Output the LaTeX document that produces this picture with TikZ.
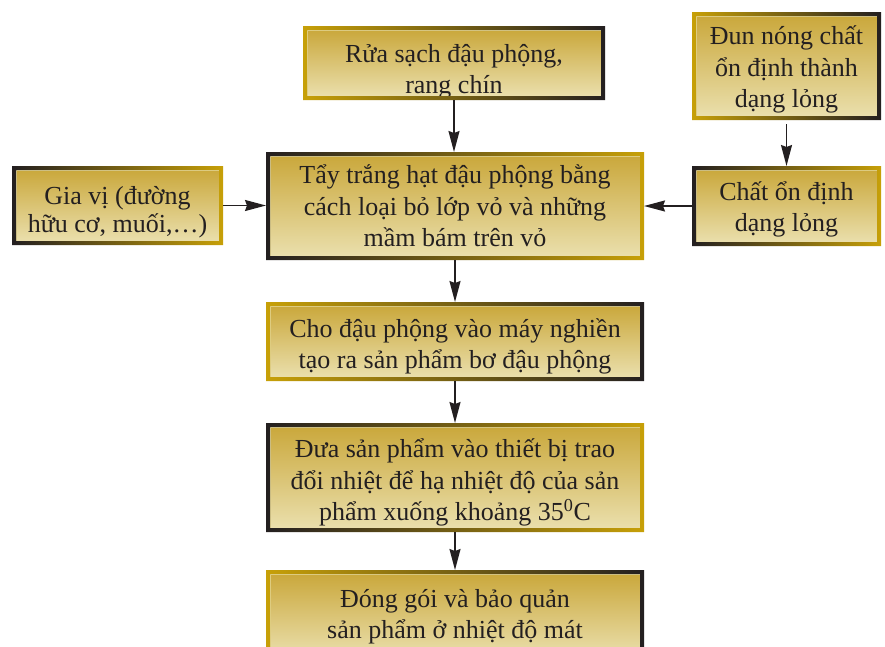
\documentclass[tikz,border=0pt]{standalone}
\usepackage{fontspec}
\setmainfont{Liberation Serif}
\usetikzlibrary{arrows.meta}
\usetikzlibrary{calc}
\definecolor{framegold}{RGB}{199,160,8}
\definecolor{framedark}{RGB}{35,31,32}
\definecolor{filltop}{RGB}{202,168,60}
\definecolor{fillbottom}{RGB}{234,223,172}
\definecolor{innerline}{RGB}{226,211,146}
\tikzset{
every picture/.style={line width=1.5pt, >={Stealth[length=21pt,width=11pt,inset=2pt]},
                       x=1pt, y=-1pt},
%%%%%%%%%%  Node styles
stepbox/.style={top color=filltop, bottom color=fillbottom, draw=innerline,
                line width=1pt, text=framedark, align=center, inner sep=0pt,
                outer sep=4pt, font=\fontsize{26}{31.5}\selectfont},
textpos/.style={text height=#1, text depth=0pt},
%%%% frames and connectors
frame/.style 2 args={left color=#1, right color=#2, even odd rule},
flow/.style={->, draw=framedark}
}
\begin{document}
\begin{tikzpicture}
\useasboundingbox (0,0) rectangle (885,646);
\node[stepbox, textpos=61pt, minimum width=294, minimum height=66] (rua) at (454,63)
      {Rửa sạch đậu phộng,\\rang chín};
\node[stepbox, textpos=81pt, minimum width=370, minimum height=100] (tay) at (455,206)
      {Tẩy trắng hạt đậu phộng bằng\\cách loại bỏ lớp vỏ và những\\mầm bám trên vỏ};
\node[stepbox, textpos=54pt, minimum width=370, minimum height=71] (nghien) at (455,341.5)
      {Cho đậu phộng vào máy nghiền\\tạo ra sản phẩm bơ đậu phộng};
\node[stepbox, textpos=86pt, minimum width=370, minimum height=101] (traonhiet) at (455,477.5)
      {Đưa sản phẩm vào thiết bị trao\\đổi nhiệt để hạ nhiệt độ của sản\\phẩm xuống khoảng 35\textsuperscript{0}C};
\node[stepbox, textpos=47pt, minimum width=370, minimum height=82] (donggoi) at (455,615)
      {Đóng gói và bảo quản\\sản phẩm ở nhiệt độ mát};
\node[stepbox, textpos=54pt, font=\fontsize{26}{28}\selectfont,
      minimum width=203, minimum height=71] (giavi) at (117.5,205.5)
      {Gia vị (đường\\hữu cơ, muối,…)};
\node[stepbox, textpos=83pt, minimum width=181, minimum height=100] (dun) at (786.5,66)
      {Đun nóng chất\\ổn định thành\\dạng lỏng};
\node[stepbox, textpos=51pt, minimum width=181, minimum height=72] (chat) at (786.5,206)
      {Chất ổn định\\dạng lỏng};
% gradient frames round the boxes
\foreach \n/\l/\r in {rua/framegold/framedark, tay/framedark/framegold,
    nghien/framegold/framedark, traonhiet/framedark/framegold,
    donggoi/framegold/framedark, giavi/framedark/framegold,
    dun/framegold/framedark, chat/framedark/framegold}
  \path[frame={\l}{\r}] (\n.north west) rectangle (\n.south east)
       ($(\n.north west)+(4,4)$) rectangle ($(\n.south east)+(-4,-4)$);
\draw[flow] (rua.south) -- (rua.south |- tay.north);
\draw[flow] (tay) -- (nghien);
\draw[flow] (nghien) -- (traonhiet);
\draw[flow] (traonhiet) -- (donggoi);
\draw[flow] (giavi.east) -- (giavi.east -| tay.west);
\draw[flow] (chat.west) -- (chat.west -| tay.east);
\draw[flow, shorten <=4pt] (dun) -- (chat);
\end{tikzpicture}
\end{document}
